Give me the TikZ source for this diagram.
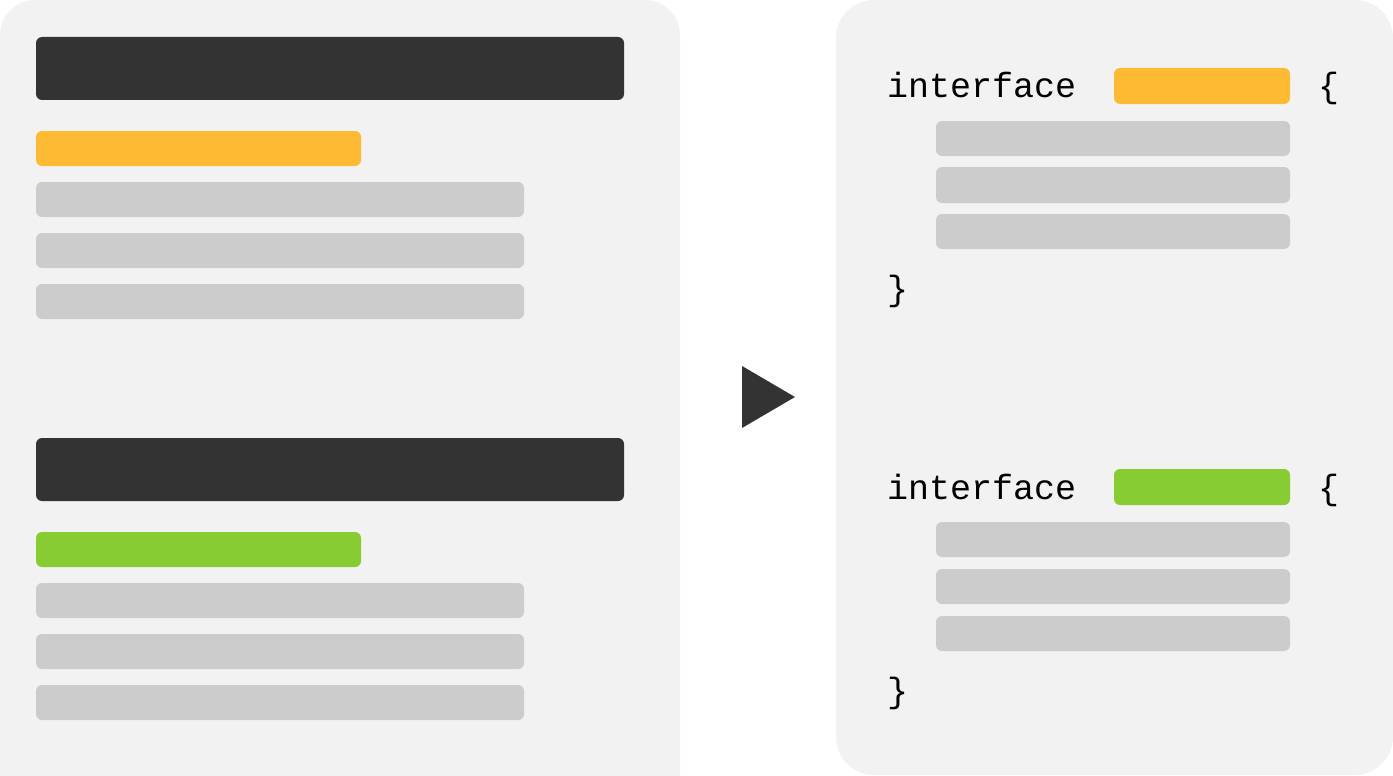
\documentclass[tikz,border=0pt]{standalone}
\usepackage{fontspec}
\newfontfamily\codefont{Liberation Mono}
\usetikzlibrary{positioning}
\definecolor{panelgray}{HTML}{F2F2F2}
\definecolor{darkbar}{HTML}{333333}
\definecolor{linegray}{HTML}{CCCCCC}
\definecolor{keyorange}{HTML}{FFBA33}
\definecolor{keygreen}{HTML}{88CC33}
\newcommand{\codebar}[5]{ % Takes colour, left x, top y, right x, bottom y as arguments
    \fill[#1, rounded corners=6pt] (#2, #3) rectangle (#4, #5);
}

\begin{document}
\begin{tikzpicture}[x=1pt, y=-1pt,
    code/.style={font=\codefont\fontsize{35}{40}\selectfont, anchor=base west, inner sep=0pt}]
                \useasboundingbox (0,0) rectangle (1393,776);

                % Panels
                \fill[panelgray] (0,776) {[rounded corners=35pt] -- (0,0) -- (680,0)} -- (680,776) -- cycle;
                \fill[panelgray, rounded corners=38pt] (836,0) rectangle (1393,775);

                % Left panel, block 1
                \codebar{darkbar}{36}{37}{624}{100}
                \codebar{keyorange}{36}{131}{361}{166}
                \codebar{linegray}{36}{182}{524}{217}
                \codebar{linegray}{36}{233}{524}{268}
                \codebar{linegray}{36}{284}{524}{319}

                % Left panel, block 2
                \codebar{darkbar}{36}{438}{624}{501}
                \codebar{keygreen}{36}{532}{361}{567}
                \codebar{linegray}{36}{583}{524}{618}
                \codebar{linegray}{36}{634}{524}{669}
                \codebar{linegray}{36}{685}{524}{720}

                % Arrow
                \fill[darkbar] (742,366) -- (795,397) -- (742,428) -- cycle;

                % Right panel, interface 1
                \node[code] (intA) at (887,97) {interface};
                \codebar{keyorange}{1114}{68}{1290}{104}
                \node[code] (openA) at (1318,97) {\{};
                \codebar{linegray}{936}{121}{1290}{156}
                \codebar{linegray}{936}{167}{1290}{203}
                \codebar{linegray}{936}{214}{1290}{249}
                \node[code] (closeA) at (887,300) {\}};

                % Right panel, interface 2
                \node[code] (intB) at (887,499) {interface};
                \codebar{keygreen}{1114}{469}{1290}{505}
                \node[code] (openB) at (1318,499) {\{};
                \codebar{linegray}{936}{522}{1290}{557}
                \codebar{linegray}{936}{569}{1290}{604}
                \codebar{linegray}{936}{616}{1290}{651}
                \node[code] (closeB) at (887,702) {\}};
            \end{tikzpicture}
\end{document}
